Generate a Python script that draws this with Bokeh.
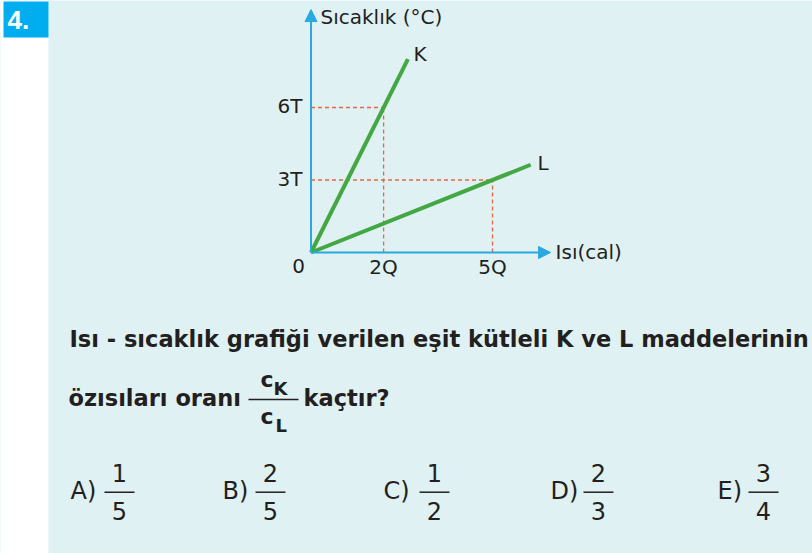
from bokeh.plotting import figure
from bokeh.models import Range1d, Arrow, NormalHead
from bokeh.core.properties import value
from bokeh.embed import file_html
from bokeh.resources import INLINE

# ---------------- data ----------------
x_ticks = [2, 5]
x_tick_labels = ["2Q", "5Q"]
y_ticks = [3, 6]
y_tick_labels = ["3T", "6T"]
k_heat = [0, 2.67]
k_temp = [0, 8.0]
l_heat = [0, 6.05]
l_temp = [0, 3.63]
guide_heat = [2, 5]
guide_temp = [6, 3]
x_axis_end = 6.6
y_axis_end = 10.05
x_axis_title = "Isı(cal)"
y_axis_title = "Sıcaklık (°C)"
question_line1 = "Isı - sıcaklık grafiği verilen eşit kütleli K ve L maddelerinin"
question_line2 = "özısıları oranı"
question_tail = "kaçtır?"
answer_letters = ["A)", "B)", "C)", "D)", "E)"]
answer_num = ["1", "2", "1", "2", "3"]
answer_den = ["5", "5", "2", "3", "4"]

# ---------------- style / layout ----------------
BG = "#DFF1F2"
BLUE = "#00AEEF"
AXIS = "#29A9E0"
GREEN = "#43A743"
RED = "#E9673F"
INK = "#231F20"
FONT = value("DejaVu Sans")
SH = 0.4   # baseline correction (fraction of font size)

W, H = 812, 553
X0, Y0 = 310.5, 252.0      # origin of the chart (page px)
QPX, TPX = 36.3, 24.17     # px per Q and per T

p = figure(width=W, height=H, x_range=Range1d(0, W), y_range=Range1d(H, 0),
           output_backend="svg", toolbar_location=None, min_border=0,
           x_axis_location=None, y_axis_location=None,
           background_fill_color=BG, border_fill_color=BG, outline_line_color=None)
p.grid.visible = False
p.extra_x_ranges = {"q": Range1d((0 - X0) / QPX, (W - X0) / QPX)}
p.extra_y_ranges = {"t": Range1d((Y0 - H) / TPX, (Y0 - 0) / TPX)}


def by(y, fs):
    return y - SH * fs


# left white strip and number box
p.quad(left=[0], right=[48], top=[0], bottom=[H], fill_color="white", line_color=None)
p.quad(left=[3], right=[48], top=[1], bottom=[37], fill_color=BLUE, line_color=None)
p.text(x=[7], y=[by(30, 26)], text=["4."], text_color="white", text_font=value("Liberation Sans"),
       text_font_style="bold", text_font_size="26px", text_baseline="alphabetic")

# ---------------- chart ----------------
cr = dict(x_range_name="q", y_range_name="t")
p.segment(x0=[0] * len(guide_heat), y0=guide_temp, x1=guide_heat, y1=guide_temp,
          line_color=RED, line_width=1.3, line_dash="4 3", **cr)
p.segment(x0=guide_heat, y0=[0] * len(guide_heat), x1=guide_heat, y1=guide_temp,
          line_color=RED, line_width=1.3, line_dash="4 3", **cr)
p.line(k_heat, k_temp, line_color=GREEN, line_width=4, **cr)
p.line(l_heat, l_temp, line_color=GREEN, line_width=4, **cr)

p.add_layout(Arrow(x_start=0, y_start=0, x_end=x_axis_end, y_end=0, line_color=AXIS, line_width=2,
                   end=NormalHead(size=12, fill_color=AXIS, line_color=AXIS), **cr))
p.add_layout(Arrow(x_start=0, y_start=0, x_end=0, y_end=y_axis_end, line_color=AXIS, line_width=2,
                   end=NormalHead(size=12, fill_color=AXIS, line_color=AXIS), **cr))

LF = 20
lab = dict(text_color=INK, text_font=FONT, text_font_size=f"{LF}px", text_baseline="alphabetic")
p.text(x=x_ticks, y=[0] * len(x_ticks), text=x_tick_labels, text_align="center",
       y_offset=by(22, LF), **lab, **cr)
p.text(x=[0] * len(y_ticks), y=y_ticks, text=y_tick_labels, text_align="right",
       x_offset=-8.5, y_offset=by(7, LF), **lab, **cr)
p.text(x=[0], y=[0], text=["0"], text_align="center", x_offset=-12.5, y_offset=by(21, LF), **lab, **cr)
p.text(x=[x_axis_end], y=[0], text=[x_axis_title], text_align="left", x_offset=5,
       y_offset=by(7.5, LF), **lab, **cr)
p.text(x=[0], y=[y_axis_end], text=[y_axis_title], text_align="left", x_offset=9.5,
       y_offset=by(15.7, LF), **lab, **cr)
p.text(x=[k_heat[-1]], y=[k_temp[-1]], text=["K"], text_align="left", x_offset=5.6,
       y_offset=by(3, LF), **lab, **cr)
p.text(x=[l_heat[-1]], y=[l_temp[-1]], text=["L"], text_align="left", x_offset=7,
       y_offset=by(6.5, LF), **lab, **cr)

# ---------------- question ----------------
qb = dict(text_color=INK, text_font=FONT, text_font_style="bold", text_baseline="alphabetic")
QF = 22.5
p.text(x=[69], y=[by(347, QF)], text=[question_line1], text_font_size=f"{QF}px", **qb)
p.text(x=[68], y=[by(406.7, QF)], text=[question_line2], text_font_size=f"{QF}px", **qb)
p.segment(x0=[248], y0=[399], x1=[298], y1=[399], line_color=INK, line_width=1.5)
p.text(x=[260, 260], y=[by(388, 22), by(425, 22)], text=["c", "c"], text_font_size="22px", **qb)
p.text(x=[273, 275], y=[by(395, 18), by(432, 18)], text=["K", "L"], text_font_size="18px", **qb)
p.text(x=[303], y=[by(406.7, QF)], text=[question_tail], text_font_size=f"{QF}px", **qb)

# ---------------- answers ----------------
AF = 24
letter_left = [70, 222, 383, 550, 717]
frac_left = [104, 255, 419, 583, 748]
frac_w = 30
ans = dict(text_color=INK, text_font=FONT, text_font_size=f"{AF}px", text_baseline="alphabetic")
p.text(x=letter_left, y=[by(500, AF)] * 5, text=answer_letters, text_align="left", **ans)
p.segment(x0=frac_left, y0=[491.7] * 5, x1=[v + frac_w for v in frac_left], y1=[491.7] * 5,
          line_color=INK, line_width=1.5)
p.text(x=[v + frac_w / 2 for v in frac_left], y=[by(482, AF)] * 5, text=answer_num,
       text_align="center", **ans)
p.text(x=[v + frac_w / 2 for v in frac_left], y=[by(520, AF)] * 5, text=answer_den,
       text_align="center", **ans)

open("out.html", "w").write(file_html(p, INLINE))
